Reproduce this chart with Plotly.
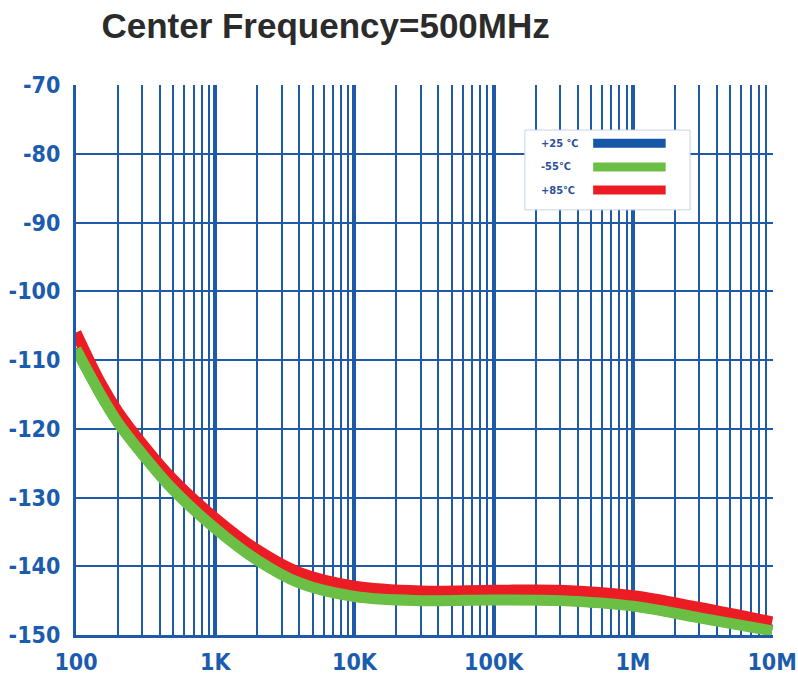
import plotly.graph_objects as go

freq = [100, 150, 200, 300, 500, 1000, 2000, 4000, 10000, 30000, 100000, 300000, 1000000, 3000000, 10000000]
pn_p85 = [-106.0, -113.3, -117.5, -122.2, -127.4, -133.0, -137.6, -140.9, -142.9, -143.6, -143.5, -143.5, -144.3, -146.0, -148.1]
pn_m55 = [-108.4, -115.0, -119.1, -123.7, -128.9, -134.5, -139.1, -142.4, -144.4, -145.0, -144.9, -145.0, -145.8, -147.5, -149.4]
pn_p25 = [v + 0.1 for v in pn_m55]

x_tickvals = [100, 1000, 10000, 100000, 1000000, 10000000]
x_ticktext = ["100", "1K", "10K", "100K", "1M", "10M"]
y_tickvals = [-70, -80, -90, -100, -110, -120, -130, -140, -150]
y_ticktext = ["-70", "-80", "-90", "-100", "-110", "-120", "-130", "-140", "-150"]

series = [
    ("+25 ℃", pn_p25, "#1656a6"),
    ("+85℃", pn_p85, "#ec1c24"),
    ("-55℃", pn_m55, "#6bbf45"),
]

BLUE = "#1c5cae"
GRID = "#1f5aa8"
FONT = "DejaVu Sans Condensed, DejaVu Sans"

fig = go.Figure()
for name, vals, col in series:
    fig.add_trace(go.Scatter(x=freq, y=vals, mode="lines", name=name,
                             line=dict(color=col, width=11, shape="spline", smoothing=1.0),
                             showlegend=False))

fig.update_layout(
    width=798, height=682,
    margin=dict(l=76, r=25, t=85, b=47),
    paper_bgcolor="white", plot_bgcolor="white",
    title=dict(text="<b>Center Frequency=500MHz</b>", x=0.408, xanchor="center", y=0.962, yanchor="middle",
               font=dict(family="Liberation Sans, Arial", size=35, color="#2b2b2b")),
    xaxis=dict(type="log", range=[2, 7.006], tickvals=x_tickvals, ticktext=x_ticktext,
               showgrid=True, gridcolor=GRID, gridwidth=3.5, automargin=False,
               minor=dict(showgrid=True, gridcolor=GRID, gridwidth=2, dtick="D1", ticks=""),
               showline=True, linecolor=GRID, linewidth=3, ticks="", zeroline=False,
               tickfont=dict(family=FONT, size=23, color=BLUE, weight="bold"), ticklabelstandoff=4),
    yaxis=dict(range=[-150, -70], tickvals=y_tickvals, ticktext=y_ticktext, automargin=False,
               showgrid=True, gridcolor=GRID, gridwidth=2,
               showline=True, linecolor=GRID, linewidth=3, ticks="", zeroline=False,
               tickfont=dict(family=FONT, size=23, color=BLUE, weight="bold"), ticklabelstandoff=8),
)

# legend box
x0, x1, y0, y1 = 0.644, 0.881, 0.773, 0.918
fig.add_shape(type="rect", xref="paper", yref="paper", x0=x0, x1=x1, y0=y0, y1=y1,
              fillcolor="white", line=dict(color="#c8d4e8", width=1), layer="above")
leg = [("+25 ℃", "#1656a6"), ("-55℃", "#6bbf45"), ("+85℃", "#ec1c24")]
ys = [0.894, 0.851, 0.809]
for (lab, col), yy in zip(leg, ys):
    fig.add_shape(type="line", xref="paper", yref="paper", x0=0.742, x1=0.846, y0=yy, y1=yy,
                  line=dict(color=col, width=9), layer="above")
    fig.add_annotation(xref="paper", yref="paper", x=0.664, y=yy, xanchor="left", yanchor="middle",
                       text="<b>%s</b>" % lab, showarrow=False,
                       font=dict(family=FONT, size=11, color="#2a4f9a"))

fig.write_html("out.html", config={"displayModeBar": False},
               post_script="document.body.style.margin='0';")
